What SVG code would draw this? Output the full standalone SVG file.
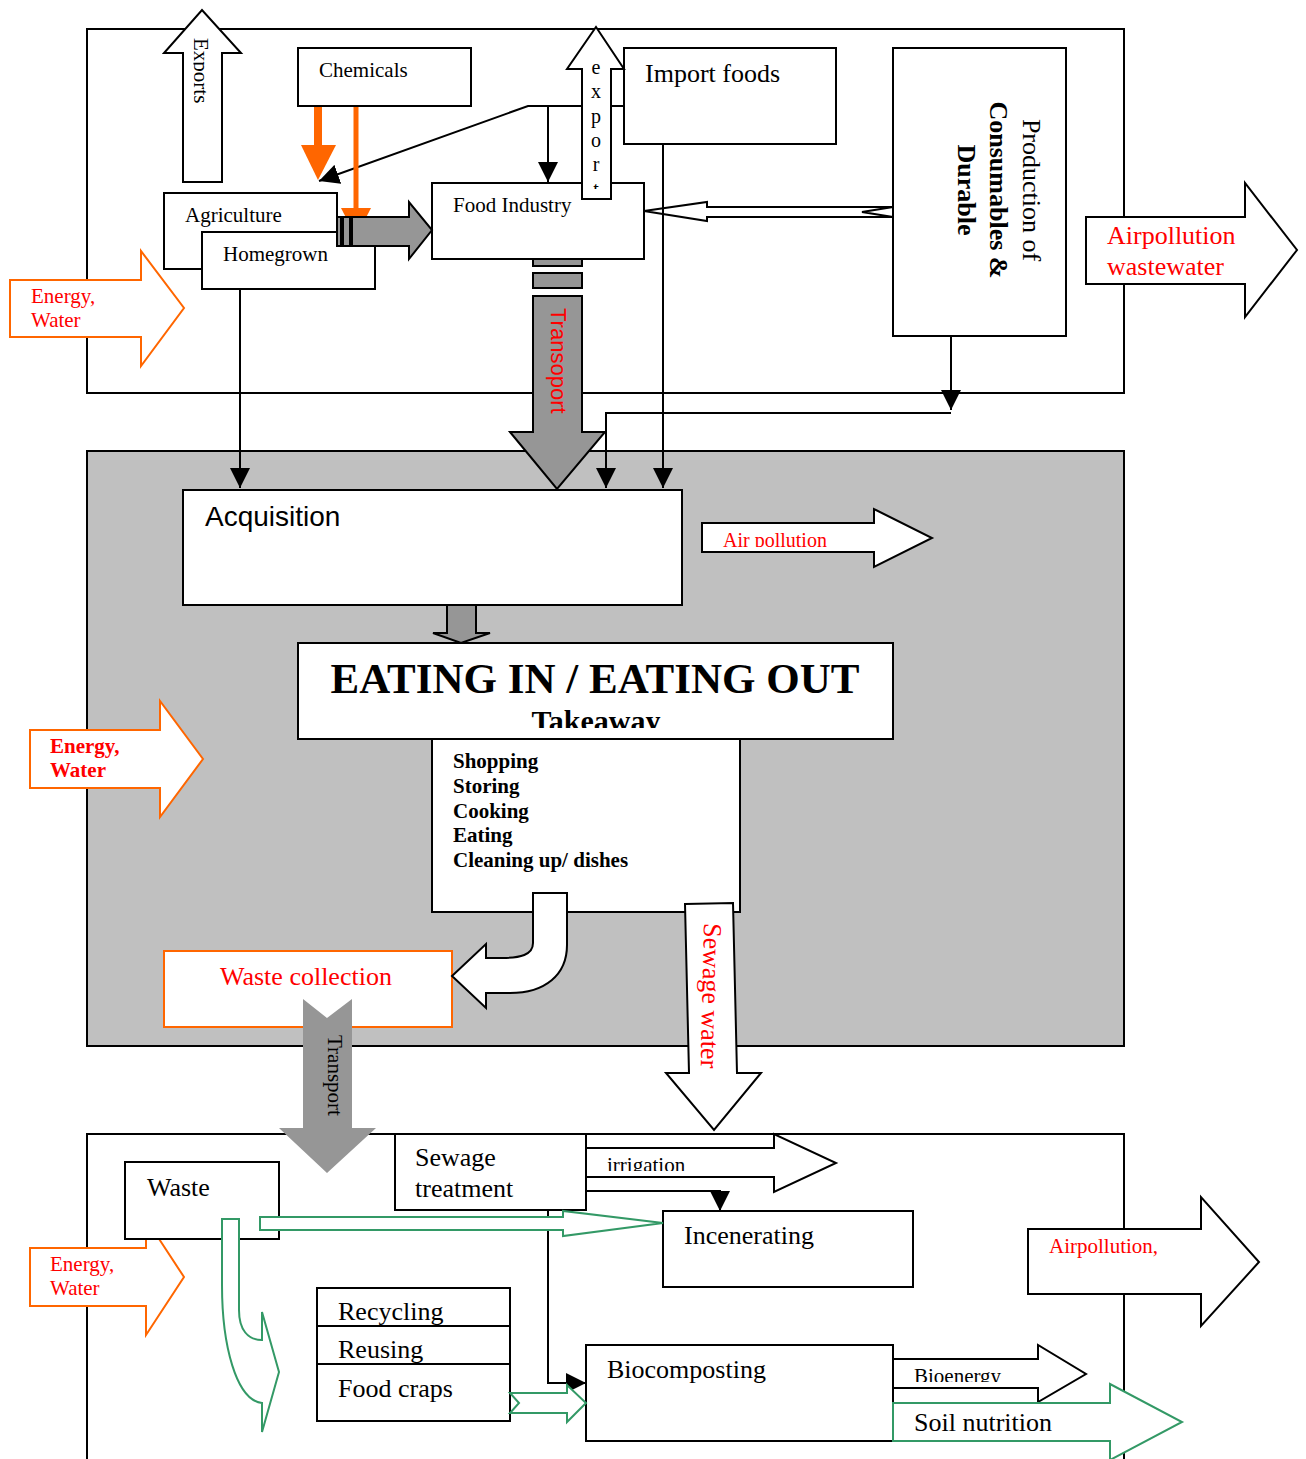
<svg xmlns="http://www.w3.org/2000/svg" width="1306" height="1459" viewBox="0 0 1306 1459">
<style>
.box{fill:#fff;stroke:#000;stroke-width:2}
.sec{fill:none;stroke:#000;stroke-width:2}
.ln{fill:none;stroke:#000;stroke-width:2}
.ser{font-family:"Liberation Serif","Times New Roman",serif;fill:#000}
.sans{font-family:"Liberation Sans",Arial,sans-serif;fill:#000}
.red{fill:#ff0000}
.b{font-weight:bold}
.org{fill:#fff;stroke:#ff6600;stroke-width:2}
.grn{fill:#fff;stroke:#339966;stroke-width:2}
.gry{fill:#969696;stroke:#000;stroke-width:2}
.wht{fill:#fff;stroke:#000;stroke-width:2}
.f26{font-size:26px}
.f21{font-size:21px}
</style>
<defs>
<marker id="ah" viewBox="0 0 20 20" markerWidth="20" markerHeight="20" refX="20" refY="10" orient="auto" markerUnits="userSpaceOnUse"><path d="M0,0 L20,10 L0,20 Z" fill="#000"/></marker>
<clipPath id="cExports"><rect x="193.5" y="30" width="30" height="80"/></clipPath>
<clipPath id="cExport"><rect x="583" y="60" width="27" height="129"/></clipPath>
<clipPath id="cAir"><rect x="703" y="520" width="171" height="27"/></clipPath>
<clipPath id="cTake"><rect x="300" y="695" width="590" height="33"/></clipPath>
<clipPath id="cIrr"><rect x="588" y="1150" width="185" height="21"/></clipPath>
<clipPath id="cBio"><rect x="895" y="1360" width="142" height="22"/></clipPath>
</defs>
<rect x="0" y="0" width="1306" height="1459" fill="#fff"/>

<g id="sections">
<rect id="sec-production" x="87" y="29" width="1037" height="364" class="sec"/>
<rect id="sec-household" x="87" y="451" width="1037" height="595" fill="#c0c0c0" stroke="#000" stroke-width="2"/>
<path id="sec-waste" d="M87,1470 V1134 H1124 V1470" class="sec"/>
</g>

<g id="inputs">
<g id="energy-top">
<polygon points="10,280 141,280 141,251 184,308 141,366 141,337 10,337" class="org"/>
<text class="ser f21 red" x="31" y="303">Energy,</text>
<text class="ser f21 red" x="31" y="327">Water</text>
</g>
<g id="energy-mid">
<polygon points="30,730 160,730 160,701 203,759 160,817 160,788 30,788" class="org"/>
<text class="ser f21 red b" x="50" y="753">Energy,</text>
<text class="ser f21 red b" x="50" y="777">Water</text>
</g>
<g id="energy-bottom">
<polygon points="30,1248 146,1248 146,1219 184,1277 146,1335 146,1306 30,1306" class="org"/>
<text class="ser f21 red" x="50" y="1271">Energy,</text>
<text class="ser f21 red" x="50" y="1295">Water</text>
</g>
</g>

<g id="connectors">
<path d="M240,289 V488" class="ln" marker-end="url(#ah)"/>
<path d="M663,144 V488" class="ln" marker-end="url(#ah)"/>
<path d="M951,336 V410" class="ln" marker-end="url(#ah)"/>
<path d="M951,413 H606 V488" class="ln" marker-end="url(#ah)"/>
<path d="M624,106 H528 L319,181" class="ln" marker-end="url(#ah)"/>
<path d="M548,106 V182" class="ln" marker-end="url(#ah)"/>
<path d="M586,1191 H720 V1211" class="ln" marker-end="url(#ah)"/>
<path d="M548,1210 V1383 H586" class="ln" marker-end="url(#ah)"/>
<g id="chem-thick">
<line x1="318" y1="104" x2="318" y2="146" stroke="#ff6600" stroke-width="8" stroke-linecap="round"/>
<polygon points="301,145 336,145 318,180" fill="#ff6600"/>
</g>
<g id="chem-thin">
<line x1="356" y1="104" x2="356" y2="209" stroke="#ff6600" stroke-width="5" stroke-linecap="round"/>
<polygon points="341,208 371,208 356,237" fill="#ff6600"/>
</g>
</g>

<g id="nodes">
<g id="chemicals"><rect x="298" y="48" width="173" height="58" class="box"/><text class="ser f21" x="319" y="77">Chemicals</text></g>
<g id="agriculture"><rect x="164" y="193" width="173" height="76" class="box"/><text class="ser f21" x="185" y="222">Agriculture</text></g>
<g id="homegrown"><rect x="202" y="232" width="173" height="57" class="box"/><text class="ser f21" x="223" y="261">Homegrown</text></g>
<g id="food-industry"><rect x="432" y="183" width="212" height="76" class="box"/><text class="ser f21" x="453" y="212">Food Industry</text></g>
<g id="import-foods"><rect x="624" y="48" width="212" height="96" class="box"/><text class="ser f26" x="645" y="82">Import foods</text></g>
<g id="production"><rect x="893" y="48" width="173" height="288" class="box"/>
<text class="ser f26" text-anchor="middle" transform="translate(1023,190) rotate(90)">Production of</text>
<text class="ser f26 b" text-anchor="middle" transform="translate(990,190) rotate(90)">Consumables &amp;</text>
<text class="ser f26 b" text-anchor="middle" transform="translate(958,190) rotate(90)">Durable</text>
</g>
<g id="acquisition"><rect x="183" y="490" width="499" height="115" class="box"/><text class="sans" font-size="28" x="205" y="526">Acquisition</text></g>
<g id="eating"><rect x="298" y="643" width="595" height="96" class="box"/>
<text class="ser b" font-size="43" text-anchor="middle" x="595" y="693">EATING IN / EATING OUT</text>
<g clip-path="url(#cTake)"><text class="ser b" font-size="30" text-anchor="middle" x="596" y="731">Takeaway</text></g>
</g>
<g id="activities"><rect x="432" y="739" width="308" height="173" class="box"/>
<text class="ser f21 b" x="453" y="768">Shopping</text>
<text class="ser f21 b" x="453" y="793">Storing</text>
<text class="ser f21 b" x="453" y="818">Cooking</text>
<text class="ser f21 b" x="453" y="842">Eating</text>
<text class="ser f21 b" x="453" y="867">Cleaning up/ dishes</text>
</g>
<g id="waste-collection"><rect x="164" y="951" width="288" height="76" fill="#fff" stroke="#ff6600" stroke-width="2"/><text class="ser f26 red" x="220" y="985">Waste collection</text></g>
<g id="waste"><rect x="125" y="1162" width="154" height="77" class="box"/><text class="ser f26" x="147" y="1196">Waste</text></g>
<g id="sewage-treatment"><rect x="395" y="1134" width="191" height="76" class="box"/><text class="ser f26" x="415" y="1166">Sewage</text><text class="ser f26" x="415" y="1197">treatment</text></g>
<g id="incenerating"><rect x="663" y="1211" width="250" height="76" class="box"/><text class="ser f26" x="684" y="1244">Incenerating</text></g>
<g id="recycling"><rect x="317" y="1288" width="193" height="38" class="box"/><text class="ser f26" x="338" y="1320">Recycling</text></g>
<g id="reusing"><rect x="317" y="1326" width="193" height="38" class="box"/><text class="ser f26" x="338" y="1358">Reusing</text></g>
<g id="food-craps"><rect x="317" y="1364" width="193" height="57" class="box"/><text class="ser f26" x="338" y="1397">Food craps</text></g>
<g id="biocomposting"><rect x="586" y="1345" width="307" height="96" class="box"/><text class="ser f26" x="607" y="1378">Biocomposting</text></g>
</g>

<g id="flow-arrows">
<g id="exports"><polygon points="183,182 222,182 222,53 241,53 202,10 164,53 183,53" class="wht"/>
<g clip-path="url(#cExports)"><text class="ser f21" transform="translate(194,38) rotate(90)">Exports</text></g></g>
<g id="export"><polygon points="582,199 611,199 611,69 624,69 596,27 567,69 582,69" class="wht"/>
<g clip-path="url(#cExport)"><text class="ser" font-size="20" text-anchor="middle"><tspan x="596" y="74">e</tspan><tspan x="596" y="98">x</tspan><tspan x="596" y="123">p</tspan><tspan x="596" y="147">o</tspan><tspan x="596" y="171">r</tspan><tspan x="596" y="196">t</tspan></text></g></g>
<g id="agri-to-industry">
<rect x="337" y="217" width="4" height="29" class="gry"/>
<rect x="343" y="217" width="7" height="29" class="gry"/>
<polygon points="352,217 409,217 409,202 432,230 409,259 409,246 352,246" class="gry"/>
</g>
<polygon id="durables-to-industry" points="893,207 707,207 707,202 644,211 707,221 707,217 893,217 862,212" fill="none" stroke="#000" stroke-width="2"/>
<g id="airpollution-top"><polygon points="1086,217 1245,217 1245,183 1297,250 1245,317 1245,284 1086,284" class="wht"/>
<text class="ser f26 red" x="1107" y="244">Airpollution</text><text class="ser f26 red" x="1107" y="275">wastewater</text></g>
<g id="transoport">
<rect x="533" y="259" width="49" height="7" class="gry"/>
<rect x="533" y="273" width="49" height="15" class="gry"/>
<polygon points="533,296 582,296 582,432 605,432 557,489 510,432 533,432" class="gry"/>
<text class="sans red" font-size="22" transform="translate(551,308) rotate(90)">Transoport</text>
</g>
<polygon id="acq-to-eating" points="447,605 476,605 476,633 490,633 461,643 433,633 447,633" class="gry"/>
<g id="air-pollution-mid"><polygon points="702,523 874,523 874,509 932,538 874,567 874,552 702,552" class="wht"/>
<g clip-path="url(#cAir)"><text class="ser red" font-size="20" x="723" y="547">Air pollution</text></g></g>
<path id="to-waste-collection" d="M533,893 L567,893 L567,945 C567,975 545,993 510,993 L486,993 L486,1008 L452,976 L486,944 L486,958 L502,958 C520,958 533,955 533,943 Z" class="wht"/>
<g id="sewage-water"><polygon points="685,904 733,903 737,1073 761,1073 714,1130 666,1073 689,1073" class="wht"/>
<text class="ser f26 red" transform="translate(704,923) rotate(91.3)">Sewage water</text></g>
<g id="transport-waste"><polygon points="303,999 327,1018 352,999 352,1128 376,1128 327,1173 279,1128 303,1128" fill="#969696"/>
<text class="ser f21" transform="translate(328,1035) rotate(90)">Transport</text></g>
<g id="irrigation"><polygon points="586,1148 774,1148 774,1134 836,1163 774,1192 774,1177 586,1177" class="wht"/>
<g clip-path="url(#cIrr)"><text class="ser f21" x="607" y="1172">irrigation</text></g></g>
<polygon id="waste-to-incenerating" points="260,1217 563,1217 563,1211 663,1223 563,1236 563,1230 260,1230" class="grn"/>
<path id="waste-to-recycling" d="M222,1219 H239 V1310 C239,1330 248,1340 262,1340 V1312 L279,1372 L262,1432 V1403 C236,1400 222,1345 222,1285 Z" class="grn"/>
<polygon id="craps-to-biocomposting" points="510,1393 567,1393 567,1385 586,1403 567,1422 567,1413 510,1413 519,1403" class="grn"/>
<g id="airpollution-bottom"><polygon points="1028,1229 1201,1229 1201,1197 1259,1262 1201,1326 1201,1294 1028,1294" class="wht"/>
<text class="ser f21 red" x="1049" y="1253">Airpollution,</text></g>
<g id="bioenergy"><polygon points="893,1359 1038,1359 1038,1345 1086,1374 1038,1402 1038,1388 893,1388" class="wht"/>
<g clip-path="url(#cBio)"><text class="ser f21" x="914" y="1383">Bioenergy</text></g></g>
<g id="soil-nutrition"><polygon points="893,1403 1110,1403 1110,1384 1182,1422 1110,1460 1110,1441 893,1441" class="grn"/>
<text class="ser f26" x="914" y="1431">Soil nutrition</text></g>
</g>
</svg>
